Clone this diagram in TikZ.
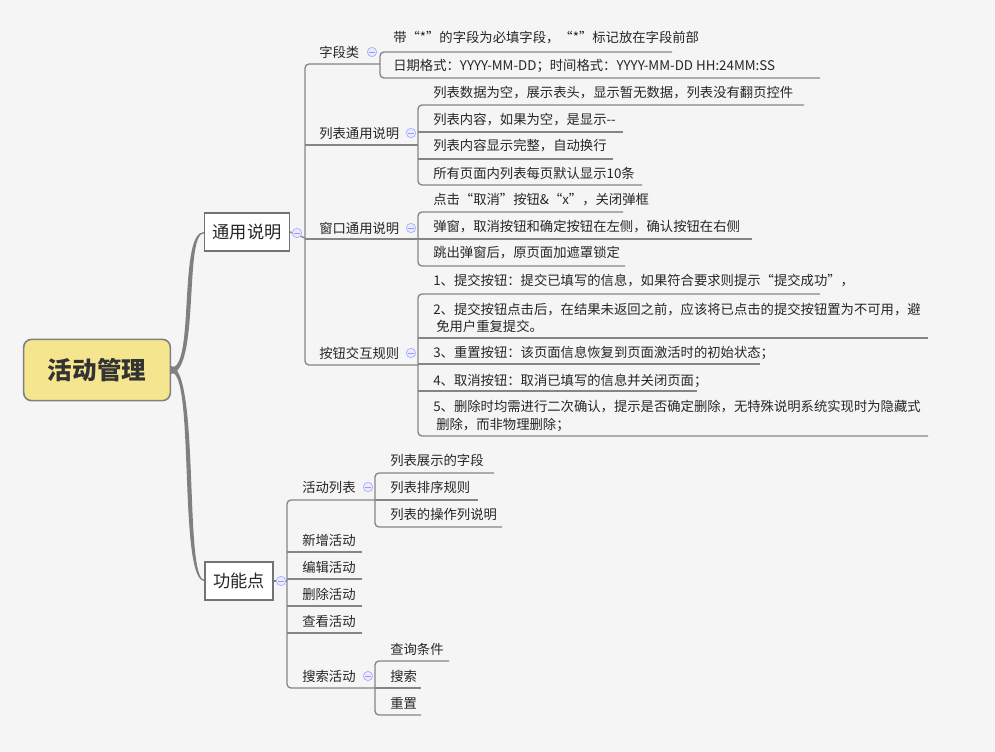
\documentclass[tikz,border=0pt]{standalone}
\usepackage{fontspec}
\setmainfont{Noto Sans CJK SC}
\definecolor{rootfill}{HTML}{F6E58F}
\begin{document}
\begin{tikzpicture}[x=0.75pt,y=-0.75pt,
  conn/.style={draw=black!48,line width=1pt,rounded corners=3pt},
  t/.style={anchor=west,inner sep=0pt,font=\fontsize{10pt}{13pt}\selectfont,text=black!85},
  tl/.style={t,align=left},
  box/.style={draw=black!55,line width=1.1pt,fill=white,minimum height=28.5pt,inner xsep=6pt,font=\fontsize{12.9pt}{15pt}\selectfont,text=black!85},
  col/.style={circle,draw=blue!30,fill=blue!8,line width=0.6pt,minimum size=7pt,inner sep=0pt,path picture={\draw[blue!40,line width=0.6pt] ([xshift=-2pt]path picture bounding box.center) -- ([xshift=2pt]path picture bounding box.center);}}]
\useasboundingbox (0,0) rectangle (995,752);
\fill[gray!8] (0,0) rectangle (995,752);
% root
\node[draw=black!50,line width=1.2pt,fill=rootfill,rounded corners=6pt,minimum width=110pt,minimum height=46pt,font=\fontsize{18.4pt}{20pt}\selectfont\bfseries,text=black!80] (root) at (97,370) {活动管理};
\node[box] (g1) at (247,232) {通用说明};
\node[box] (g2) at (239,581) {功能点};
\fill[black!50] ([yshift=2pt]root.east) .. controls (195,370) and (178,232) .. (g1.west) -- ([yshift=-1pt]g1.west) .. controls (184,233) and (200,370) .. ([yshift=-3pt]root.east) -- cycle;
\fill[black!50] ([yshift=-2pt]root.east) .. controls (195,370) and (178,581) .. (g2.west) -- ([yshift=1pt]g2.west) .. controls (184,581) and (200,370) .. ([yshift=3pt]root.east) -- cycle;
\draw[conn] (g1.east) -- (305,238);
\draw[conn] (g2.east) -- (287,581);
\node[col] at (297,233) {};
\node[col] at (281,581) {};
% level 1 under 通用说明
\node[t] (a1) at (319,52) {字段类};
\node[t] (a2) at (319,133) {列表通用说明};
\node[t] (a3) at (319,228) {窗口通用说明};
\node[t] (a4) at (319,353) {按钮交互规则};
\draw[conn] (380,64) -- (305,64) -- (305,365) -- (418,365);
\draw[conn] (305,145) -- (418,145);
\draw[conn] (305,239) -- (418,239);
\node[col] at (372,52) {};
\node[col] at (411,133) {};
\node[col] at (411,228) {};
\node[col] at (411,353) {};
% 字段类
\node[t] (a11) at (393,38) {带“*”的字段为必填字段，“*”标记放在字段前部};
\node[t] (a12) at (393,66) {日期格式：YYYY-MM-DD；时间格式：YYYY-MM-DD HH:24MM:SS};
\draw[conn] (672,52) -- (380,52) -- (380,78) -- (820,78);
% 列表通用说明
\node[t] (a21) at (433,93) {列表数据为空，展示表头，显示暂无数据，列表没有翻页控件};
\node[t] (a22) at (433,120) {列表内容，如果为空，是显示-{}-};
\node[t] (a23) at (433,146) {列表内容显示完整，自动换行};
\node[t] (a24) at (433,173) {所有页面内列表每页默认显示10条};
\draw[conn] (804,105) -- (418,105) -- (418,185) -- (642,185);
\draw[conn] (418,132) -- (623,132);
\draw[conn] (418,159) -- (613,159);
% 窗口通用说明
\node[t] (a31) at (433,200) {点击“取消”按钮\&“x”，关闭弹框};
\node[t] (a32) at (433,227) {弹窗，取消按钮和确定按钮在左侧，确认按钮在右侧};
\node[t] (a33) at (433,253) {跳出弹窗后，原页面加遮罩锁定};
\draw[conn] (623,212) -- (418,212) -- (418,266) -- (625,266);
\draw[conn] (418,239) -- (752,239);
% 按钮交互规则
\node[t] (a41) at (433,281) {1、提交按钮：提交已填写的信息，如果符合要求则提示“提交成功”，};
\node[tl] (a42) at (433,318) {2、提交按钮点击后，在结果未返回之前，应该将已点击的提交按钮置为不可用，避\\\ 免用户重复提交。};
\node[t] (a43) at (433,353) {3、重置按钮：该页面信息恢复到页面激活时的初始状态；};
\node[t] (a44) at (433,381) {4、取消按钮：取消已填写的信息并关闭页面；};
\node[tl] (a45) at (433,416) {5、删除时均需进行二次确认，提示是否确定删除，无特殊说明系统实现时为隐藏式\\\ 删除，而非物理删除；};
\draw[conn] (820,294) -- (418,294) -- (418,436) -- (928,436);
\draw[conn] (418,338) -- (928,338);
\draw[conn] (418,364) -- (760,364);
\draw[conn] (418,391) -- (697,391);
% 功能点
\node[t] (b1) at (302,487) {活动列表};
\node[t] (b2) at (302,540) {新增活动};
\node[t] (b3) at (302,567) {编辑活动};
\node[t] (b4) at (302,594) {删除活动};
\node[t] (b5) at (302,621) {查看活动};
\node[t] (b6) at (302,676) {搜索活动};
\draw[conn] (375,500) -- (287,500) -- (287,688) -- (375,688);
\draw[conn] (287,552) -- (362,552);
\draw[conn] (287,579) -- (362,579);
\draw[conn] (287,606) -- (362,606);
\draw[conn] (287,633) -- (362,633);
\node[col] at (368,487) {};
\node[col] at (368,676) {};
% 活动列表
\node[t] (b11) at (390,460) {列表展示的字段};
\node[t] (b12) at (390,487) {列表排序规则};
\node[t] (b13) at (390,514) {列表的操作列说明};
\draw[conn] (494,473) -- (375,473) -- (375,527) -- (502,527);
\draw[conn] (375,500) -- (478,500);
% 搜索活动
\node[t] (b61) at (390,649) {查询条件};
\node[t] (b62) at (390,676) {搜索};
\node[t] (b63) at (390,703) {重置};
\draw[conn] (449,661) -- (375,661) -- (375,715) -- (421,715);
\draw[conn] (375,688) -- (421,688);
\end{tikzpicture}
\end{document}
